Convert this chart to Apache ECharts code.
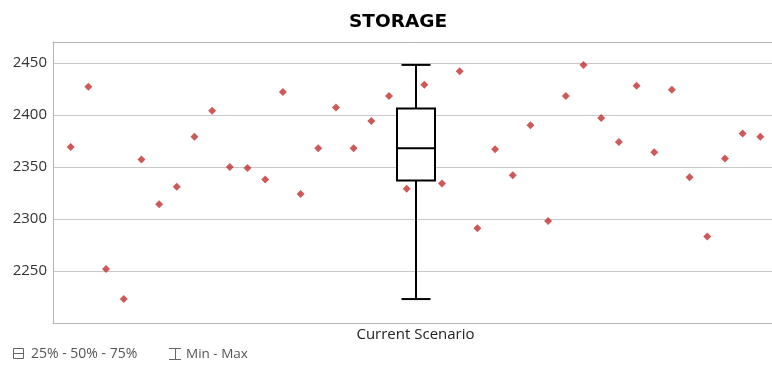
<!DOCTYPE html>
<html>
<head>
<meta charset="utf-8">
<script src="https://cdn.jsdelivr.net/npm/echarts@6/dist/echarts.min.js"></script>
<style>
html,body{margin:0;padding:0;background:#fff;overflow:hidden;width:772px;height:365px;}
#chart{width:778px;height:365px;}
</style>
</head>
<body>
<div id="chart"></div>
<script>
const chartTitle = 'STORAGE';
const categories = ['Current Scenario'];
const storageValues = [
  2369, 2427, 2252, 2223, 2357, 2314, 2331, 2379, 2404, 2350,
  2349, 2338, 2422, 2324, 2368, 2407, 2368, 2394, 2418, 2329,
  2429, 2334, 2442, 2291, 2367, 2342, 2390, 2298, 2418, 2448,
  2397, 2374, 2428, 2364, 2424, 2340, 2283, 2358, 2382, 2379
];
// min, Q1, median, Q3, max
const boxStats = [[2223, 2337, 2368, 2406, 2448]];
const legendLabels = ['25% - 50% - 75%', 'Min - Max'];
const yMin = 2200, yMax = 2470, yInterval = 50;

const chart = echarts.init(document.getElementById('chart'), null, {renderer: 'canvas'});
const FONT = '"Open Sans", "Noto Sans", sans-serif';
const BOX_HALF = 19, CAP_HALF = 14.5;
const FRAME = {show: true, lineStyle: {color: '#b4b4b4', width: 1}};

const option = {
  animation: false,
  backgroundColor: '#ffffff',
  title: {
    text: chartTitle,
    left: 344, top: 8,
    textStyle: {fontFamily: '"DejaVu Sans", sans-serif', fontWeight: 'bold', fontSize: 18.5, color: '#000'}
  },
  grid: {
    left: 53, top: 42, right: 0, bottom: 42, show: false
  },
  xAxis: [
    {
      type: 'category', data: categories, boundaryGap: true, position: 'bottom',
      axisLine: FRAME, axisTick: {show: false},
      axisLabel: {fontFamily: FONT, fontSize: 15, color: '#222', margin: 4},
      splitLine: {show: false}
    },
    {
      type: 'value', min: 0, max: storageValues.length + 1, position: 'top',
      axisLine: FRAME, axisTick: {show: false}, axisLabel: {show: false},
      splitLine: {show: false}
    }
  ],
  yAxis: {
    type: 'value', min: yMin, max: yMax, interval: yInterval,
    axisLine: FRAME, axisTick: {show: false},
    axisLabel: {fontFamily: FONT, fontSize: 15, color: '#333', margin: 6, showMinLabel: false, showMaxLabel: false,
      formatter: function (v) { return String(v); }},
    splitLine: {lineStyle: {color: '#c8c8c8', width: 1}}
  },
  series: [
    {
      type: 'custom', xAxisIndex: 0, z: 2,
      data: boxStats.map((s, i) => [i].concat(s)),
      encode: {x: 0, y: [1, 2, 3, 4, 5]},
      renderItem: function (params, api) {
        const c = api.value(0);
        const pMin = api.coord([c, api.value(1)]);
        const pQ1 = api.coord([c, api.value(2)]);
        const pMed = api.coord([c, api.value(3)]);
        const pQ3 = api.coord([c, api.value(4)]);
        const pMax = api.coord([c, api.value(5)]);
        const x = Math.round(pMed[0]);
        const st = {stroke: '#000', lineWidth: 2, fill: null};
        return {
          type: 'group',
          children: [
            {type: 'line', shape: {x1: x, y1: pMax[1], x2: x, y2: pQ3[1]}, style: st},
            {type: 'line', shape: {x1: x, y1: pQ1[1], x2: x, y2: pMin[1]}, style: st},
            {type: 'line', shape: {x1: x - CAP_HALF, y1: pMax[1], x2: x + CAP_HALF, y2: pMax[1]}, style: st},
            {type: 'line', shape: {x1: x - CAP_HALF, y1: pMin[1], x2: x + CAP_HALF, y2: pMin[1]}, style: st},
            {type: 'rect', shape: {x: x - BOX_HALF, y: pQ3[1], width: BOX_HALF * 2, height: pQ1[1] - pQ3[1]},
              style: {stroke: '#000', lineWidth: 2, fill: '#fff'}},
            {type: 'line', shape: {x1: x - BOX_HALF, y1: pMed[1], x2: x + BOX_HALF, y2: pMed[1]}, style: st}
          ]
        };
      }
    },
    {
      type: 'scatter', xAxisIndex: 1, z: 3,
      symbol: 'diamond', symbolSize: 8,
      itemStyle: {color: '#c22f2f'},
      data: storageValues.map((v, i) => [i + 1, v])
    }
  ],
  graphic: [
    {type: 'rect', shape: {x: 13.5, y: 348.5, width: 10, height: 10}, style: {stroke: '#666', lineWidth: 1, fill: null}},
    {type: 'line', shape: {x1: 13.5, y1: 353.5, x2: 23.5, y2: 353.5}, style: {stroke: '#666', lineWidth: 1}},
    {type: 'text', left: 31, top: 347, style: {text: legendLabels[0], font: '14px ' + FONT, fill: '#555'}},
    {type: 'line', shape: {x1: 169, y1: 348.5, x2: 181, y2: 348.5}, style: {stroke: '#666', lineWidth: 1}},
    {type: 'line', shape: {x1: 175.5, y1: 348.5, x2: 175.5, y2: 359.5}, style: {stroke: '#666', lineWidth: 1}},
    {type: 'line', shape: {x1: 169, y1: 359.5, x2: 181, y2: 359.5}, style: {stroke: '#666', lineWidth: 1}},
    {type: 'text', left: 186, top: 347, style: {text: legendLabels[1], font: '13.5px ' + FONT, fill: '#555'}}
  ]
};
chart.setOption(option);
</script>
</body>
</html>
